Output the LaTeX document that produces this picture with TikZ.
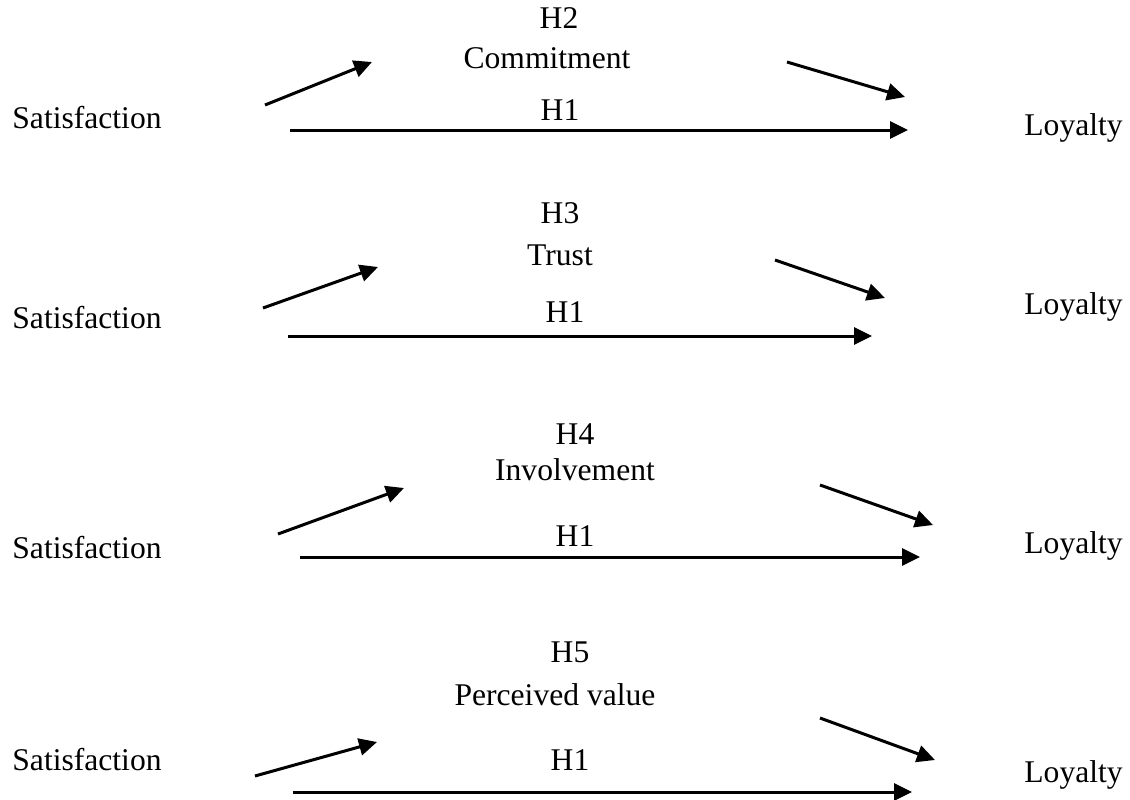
\documentclass[tikz,border=0pt]{standalone}
\usepackage{fontspec}
\setmainfont{Liberation Serif}
\usetikzlibrary{arrows.meta}
\begin{document}
\begin{tikzpicture}[x=0.5pt,y=-0.5pt,
  lbl/.style={inner sep=0pt,font=\fontsize{15.8}{18}\selectfont},
  link/.style={line width=1.5pt,-{Triangle[length=9pt,width=8.5pt]}}]
\useasboundingbox (0,0) rectangle (1130,799);

% ---- Commitment ----
\node[lbl,anchor=west] (s1) at (12,118) {Satisfaction};
\node[lbl,anchor=west] (l1) at (1024,128) {Loyalty};
\node[lbl] (h2) at (559,18) {H2};
\node[lbl] (m1) at (547,58) {Commitment};
\node[lbl] (h1a) at (560,110) {H1};
\coordinate (a1) at (265,105); \coordinate (b1) at (372,62);
\coordinate (c1) at (787,62);  \coordinate (d1) at (905,97);
\coordinate (e1) at (290,130); \coordinate (f1) at (908,130);
\draw[link] (a1) -- (b1);
\draw[link] (c1) -- (d1);
\draw[link] (e1) -- (f1);

% ---- Trust ----
\node[lbl,anchor=west] (s2) at (12,318) {Satisfaction};
\node[lbl,anchor=west] (l2) at (1024,307) {Loyalty};
\node[lbl] (h3) at (560,213) {H3};
\node[lbl] (m2) at (560,255) {Trust};
\node[lbl] (h1b) at (565,312) {H1};
\coordinate (a2) at (263,308); \coordinate (b2) at (378,267);
\coordinate (c2) at (775,260); \coordinate (d2) at (885,298);
\coordinate (e2) at (288,336); \coordinate (f2) at (872,336);
\draw[link] (a2) -- (b2);
\draw[link] (c2) -- (d2);
\draw[link] (e2) -- (f2);

% ---- Involvement ----
\node[lbl,anchor=west] (s3) at (12,548) {Satisfaction};
\node[lbl,anchor=west] (l3) at (1024,546) {Loyalty};
\node[lbl] (h4) at (575,434) {H4};
\node[lbl] (m3) at (575,470) {Involvement};
\node[lbl] (h1c) at (575,536) {H1};
\coordinate (a3) at (278,534); \coordinate (b3) at (404,488);
\coordinate (c3) at (820,485); \coordinate (d3) at (933,525);
\coordinate (e3) at (300,557); \coordinate (f3) at (920,557);
\draw[link] (a3) -- (b3);
\draw[link] (c3) -- (d3);
\draw[link] (e3) -- (f3);

% ---- Perceived value ----
\node[lbl,anchor=west] (s4) at (12,760) {Satisfaction};
\node[lbl,anchor=west] (l4) at (1024,775) {Loyalty};
\node[lbl] (h5) at (570,652) {H5};
\node[lbl] (m4) at (555,695) {Perceived value};
\node[lbl] (h1d) at (570,760) {H1};
\coordinate (a4) at (255,776); \coordinate (b4) at (377,742);
\coordinate (c4) at (820,718); \coordinate (d4) at (935,760);
\coordinate (e4) at (293,792); \coordinate (f4) at (912,792);
\draw[link] (a4) -- (b4);
\draw[link] (c4) -- (d4);
\draw[link] (e4) -- (f4);
\end{tikzpicture}
\end{document}
